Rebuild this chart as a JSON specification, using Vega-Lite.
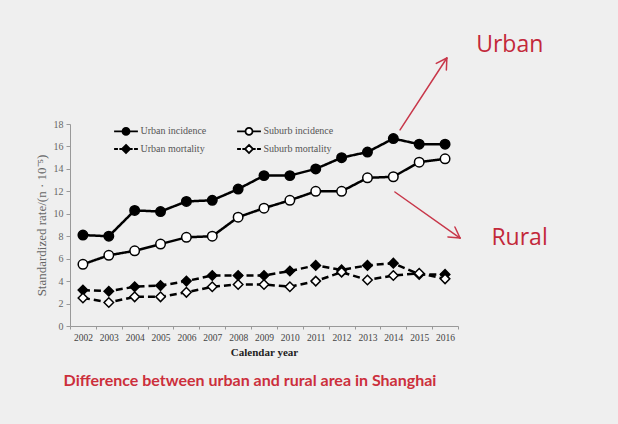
{
  "$schema": "https://vega.github.io/schema/vega-lite/v6.json",
  "width": 388,
  "height": 202,
  "autosize": {"type": "none"},
  "padding": {"left": 70, "top": 124, "right": 160, "bottom": 98},
  "background": "#efefef",
  "config": {
    "view": {"stroke": null},
    "font": "Liberation Serif",
    "legend": {"title": null, "orient": "none", "legendX": 51, "legendY": 2, "direction": "horizontal", "columns": 2,
      "columnPadding": 26, "rowPadding": 2, "labelFont": "Liberation Serif", "labelFontSize": 10, "labelColor": "#555",
      "labelOffset": 9.5, "symbolSize": 49, "symbolStrokeWidth": 1.8, "symbolStrokeColor": "black"}
  },
  "title": {
    "text": "Difference between urban and rural area in Shanghai",
    "orient": "bottom",
    "anchor": "middle",
    "frame": "group",
    "font": "Lato",
    "fontSize": 16,
    "fontWeight": "bold",
    "color": "#cc2f3c",
    "offset": 15,
    "dx": -14
  },
  "resolve": {
    "scale": {"shape": "independent", "fill": "independent", "strokeDash": "independent", "stroke": "independent"},
    "legend": {"shape": "independent", "fill": "independent", "strokeDash": "independent", "stroke": "independent"}
  },
  "encoding": {
    "x": {"field": "year", "type": "quantitative", "title": "Calendar year",
      "scale": {"domain": [2001.5, 2016.5], "nice": false, "zero": false},
      "axis": {"values": [2001.5, 2002.5, 2003.5, 2004.5, 2005.5, 2006.5, 2007.5, 2008.5, 2009.5, 2010.5, 2011.5, 2012.5, 2013.5, 2014.5, 2015.5, 2016.5],
        "labelExpr": "datum.value < 2016 ? toString(datum.value + 0.5) : ''",
        "labelOffset": 12.93, "labelFlush": false, "labelOverlap": false, "grid": false,
        "domainColor": "#999", "tickColor": "#999", "tickSize": 3,
        "labelColor": "#444", "labelFontSize": 9.5, "labelPadding": 3,
        "titleFontSize": 11, "titleFontWeight": "bold", "titleColor": "#222", "titlePadding": 5}},
    "y": {"field": "value", "type": "quantitative", "title": "Standardized rate/(n · 10⁻⁵)",
      "scale": {"domain": [0, 18], "nice": false},
      "axis": {"values": [0, 2, 4, 6, 8, 10, 12, 14, 16, 18], "grid": false,
        "domainColor": "#999", "tickColor": "#999", "tickSize": 4,
        "labelColor": "#666", "labelFontSize": 10, "labelPadding": 3,
        "titleColor": "#666", "titleFontSize": 13, "titleFontWeight": "normal", "titlePadding": 5}}
  },
  "layer": [
    {
      "data": {"name": "series"},
      "mark": {"type": "line", "color": "black", "strokeWidth": 2.5},
      "encoding": {
        "detail": {"field": "series"},
        "strokeDash": {"field": "series", "type": "nominal", "legend": null,
          "scale": {"domain": ["Urban incidence", "Suburb incidence", "Urban mortality", "Suburb mortality"],
            "range": [[1, 0], [1, 0], [7, 4], [7, 4]]}}
      }
    },
    {
      "data": {"name": "series"},
      "mark": {"type": "point", "stroke": "black", "strokeWidth": 1.5, "opacity": 1, "size": 90},
      "encoding": {
        "shape": {"field": "series", "type": "nominal", "legend": null,
          "scale": {"domain": ["Urban incidence", "Suburb incidence", "Urban mortality", "Suburb mortality"],
            "range": ["circle", "circle", "diamond", "diamond"]}},
        "fill": {"field": "series", "type": "nominal", "legend": null,
          "scale": {"domain": ["Urban incidence", "Suburb incidence", "Urban mortality", "Suburb mortality"],
            "range": ["black", "white", "black", "white"]}}
      }
    },
    {
      "data": {"name": "series"},
      "transform": [{"filter": "false"}],
      "mark": {"type": "point", "strokeWidth": 1.8, "opacity": 1, "size": 49},
      "encoding": {
        "shape": {"field": "series", "type": "nominal",
          "scale": {"domain": ["Urban incidence", "Suburb incidence", "Urban mortality", "Suburb mortality"],
            "range": [
              "M-3.4,0L-1,0M1,0L3.4,0M1,0A1,1,0,1,1,-1,0A1,1,0,1,1,1,0Z",
              "M-3.4,0L-1,0M1,0L3.4,0M1,0A1,1,0,1,1,-1,0A1,1,0,1,1,1,0Z",
              "M-3.4,0L-2.3,0M-1.9,0L-1.15,0M1.15,0L1.9,0M2.3,0L3.4,0M0,-1.15L1.15,0L0,1.15L-1.15,0Z",
              "M-3.4,0L-2.3,0M-1.9,0L-1.15,0M1.15,0L1.9,0M2.3,0L3.4,0M0,-1.15L1.15,0L0,1.15L-1.15,0Z"]}},
        "fill": {"field": "series", "type": "nominal",
          "scale": {"domain": ["Urban incidence", "Suburb incidence", "Urban mortality", "Suburb mortality"],
            "range": ["black", "white", "black", "white"]}},
        "stroke": {"field": "series", "type": "nominal",
          "scale": {"domain": ["Urban incidence", "Suburb incidence", "Urban mortality", "Suburb mortality"],
            "range": ["black", "black", "black", "black"]}}
      }
    },
    {
      "data": {"name": "arrows"},
      "mark": {"type": "rule", "color": "#c8374a", "strokeWidth": 1.5, "strokeCap": "round"},
      "encoding": {
        "x2": {"field": "year2"},
        "y2": {"field": "value2"}
      }
    },
    {
      "data": {"name": "labels"},
      "mark": {"type": "text", "font": "Open Sans", "fontSize": 23, "color": "#c3283a", "align": "center", "baseline": "middle"},
      "encoding": {
        "text": {"field": "text"}
      }
    }
  ],
  "datasets": {
    "series": [
      {"year": 2002, "series": "Urban incidence", "value": 8.1},
      {"year": 2003, "series": "Urban incidence", "value": 8.0},
      {"year": 2004, "series": "Urban incidence", "value": 10.3},
      {"year": 2005, "series": "Urban incidence", "value": 10.2},
      {"year": 2006, "series": "Urban incidence", "value": 11.1},
      {"year": 2007, "series": "Urban incidence", "value": 11.2},
      {"year": 2008, "series": "Urban incidence", "value": 12.2},
      {"year": 2009, "series": "Urban incidence", "value": 13.4},
      {"year": 2010, "series": "Urban incidence", "value": 13.4},
      {"year": 2011, "series": "Urban incidence", "value": 14.0},
      {"year": 2012, "series": "Urban incidence", "value": 15.0},
      {"year": 2013, "series": "Urban incidence", "value": 15.5},
      {"year": 2014, "series": "Urban incidence", "value": 16.7},
      {"year": 2015, "series": "Urban incidence", "value": 16.2},
      {"year": 2016, "series": "Urban incidence", "value": 16.2},
      {"year": 2002, "series": "Suburb incidence", "value": 5.5},
      {"year": 2003, "series": "Suburb incidence", "value": 6.3},
      {"year": 2004, "series": "Suburb incidence", "value": 6.7},
      {"year": 2005, "series": "Suburb incidence", "value": 7.3},
      {"year": 2006, "series": "Suburb incidence", "value": 7.9},
      {"year": 2007, "series": "Suburb incidence", "value": 8.0},
      {"year": 2008, "series": "Suburb incidence", "value": 9.7},
      {"year": 2009, "series": "Suburb incidence", "value": 10.5},
      {"year": 2010, "series": "Suburb incidence", "value": 11.2},
      {"year": 2011, "series": "Suburb incidence", "value": 12.0},
      {"year": 2012, "series": "Suburb incidence", "value": 12.0},
      {"year": 2013, "series": "Suburb incidence", "value": 13.2},
      {"year": 2014, "series": "Suburb incidence", "value": 13.3},
      {"year": 2015, "series": "Suburb incidence", "value": 14.6},
      {"year": 2016, "series": "Suburb incidence", "value": 14.9},
      {"year": 2002, "series": "Urban mortality", "value": 3.2},
      {"year": 2003, "series": "Urban mortality", "value": 3.1},
      {"year": 2004, "series": "Urban mortality", "value": 3.5},
      {"year": 2005, "series": "Urban mortality", "value": 3.6},
      {"year": 2006, "series": "Urban mortality", "value": 4.0},
      {"year": 2007, "series": "Urban mortality", "value": 4.5},
      {"year": 2008, "series": "Urban mortality", "value": 4.5},
      {"year": 2009, "series": "Urban mortality", "value": 4.5},
      {"year": 2010, "series": "Urban mortality", "value": 4.9},
      {"year": 2011, "series": "Urban mortality", "value": 5.4},
      {"year": 2012, "series": "Urban mortality", "value": 5.0},
      {"year": 2013, "series": "Urban mortality", "value": 5.4},
      {"year": 2014, "series": "Urban mortality", "value": 5.6},
      {"year": 2015, "series": "Urban mortality", "value": 4.6},
      {"year": 2016, "series": "Urban mortality", "value": 4.6},
      {"year": 2002, "series": "Suburb mortality", "value": 2.5},
      {"year": 2003, "series": "Suburb mortality", "value": 2.1},
      {"year": 2004, "series": "Suburb mortality", "value": 2.6},
      {"year": 2005, "series": "Suburb mortality", "value": 2.6},
      {"year": 2006, "series": "Suburb mortality", "value": 3.0},
      {"year": 2007, "series": "Suburb mortality", "value": 3.5},
      {"year": 2008, "series": "Suburb mortality", "value": 3.7},
      {"year": 2009, "series": "Suburb mortality", "value": 3.7},
      {"year": 2010, "series": "Suburb mortality", "value": 3.5},
      {"year": 2011, "series": "Suburb mortality", "value": 4.0},
      {"year": 2012, "series": "Suburb mortality", "value": 4.8},
      {"year": 2013, "series": "Suburb mortality", "value": 4.1},
      {"year": 2014, "series": "Suburb mortality", "value": 4.5},
      {"year": 2015, "series": "Suburb mortality", "value": 4.7},
      {"year": 2016, "series": "Suburb mortality", "value": 4.2}
    ],
    "arrows": [
      {"year": 2014.26, "value": 17.47, "year2": 2016.07, "value2": 23.88},
      {"year": 2015.66, "value": 23.40, "year2": 2016.07, "value2": 23.88},
      {"year": 2016.05, "value": 22.81, "year2": 2016.07, "value2": 23.88},
      {"year": 2014.06, "value": 11.94, "year2": 2016.58, "value2": 7.84},
      {"year": 2016.38, "value": 8.82, "year2": 2016.58, "value2": 7.84},
      {"year": 2016.11, "value": 7.94, "year2": 2016.58, "value2": 7.84}
    ],
    "labels": [
      {"year": 2018.5, "value": 25.04, "text": "Urban"},
      {"year": 2018.88, "value": 7.84, "text": "Rural"}
    ]
  }
}
